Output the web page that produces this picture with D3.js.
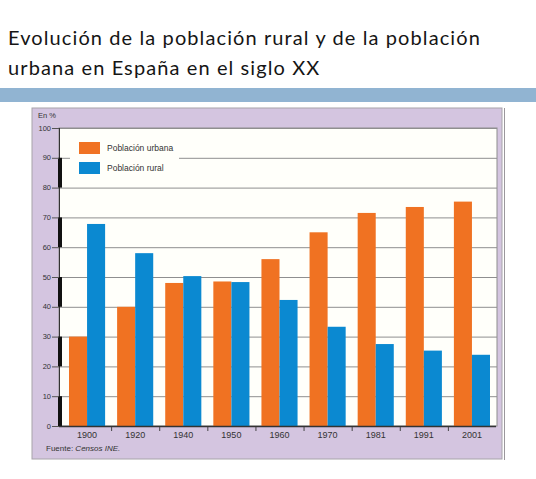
<!DOCTYPE html>
<html>
<head>
<meta charset="utf-8">
<script src="https://cdn.jsdelivr.net/npm/d3@7"></script>
<style>
  body { margin: 0; background: #fff; }
  svg { display: block; }
</style>
</head>
<body>
<div id="chart"></div>
<script>
// data (percent)
const years = ["1900", "1920", "1940", "1950", "1960", "1970", "1981", "1991", "2001"];
const urbana = [30, 40, 48, 48.5, 56, 65, 71.5, 73.5, 75.3];
const rural = [67.8, 58, 50.3, 48.3, 42.3, 33.3, 27.5, 25.3, 23.9];
const yTicks = [0, 10, 20, 30, 40, 50, 60, 70, 80, 90, 100];
const seriesNames = ["Población urbana", "Población rural"];

const W = 536, H = 479;
const colors = ["#f07222", "#0b89d1"];

const svg = d3.select("#chart").append("svg").attr("width", W).attr("height", H);

// title
const title = svg.append("text")
  .attr("x", 8)
  .style("font-family", "Lato, 'Open Sans', sans-serif")
  .style("font-size", "20px")
  .style("letter-spacing", "1.1px")
  .style("fill", "#151515");
title.append("tspan").attr("x", 8).attr("y", 45).text("Evolución de la población rural y de la población");
title.append("tspan").attr("x", 8).attr("y", 75).text("urbana en España en el siglo XX");

// blue band
svg.append("rect").attr("x", 0).attr("y", 88).attr("width", W).attr("height", 14).attr("fill", "#91b4d2");

// panel
svg.append("rect").attr("x", 32).attr("y", 108).attr("width", 470).attr("height", 351)
  .attr("fill", "#d4c5e0").attr("stroke", "#a8a4aa").attr("stroke-width", 1);
svg.append("line").attr("x1", 504.5).attr("x2", 504.5).attr("y1", 108).attr("y2", 460)
  .attr("stroke", "#9b979c").attr("stroke-width", 1);

// scales
const y = d3.scaleLinear().domain([0, 100]).range([426, 128]);
const x = d3.scaleBand().domain(years).range([63, 496]).padding(0);
const x1 = d3.scaleBand().domain([0, 1]).range([6, x.bandwidth() - 6]).padding(0);

// plot background
svg.append("rect").attr("x", 59).attr("y", y(100)).attr("width", 497 - 59).attr("height", y(0) - y(100))
  .attr("fill", "#fffffa").attr("stroke", "#8d8d8d").attr("stroke-width", 1);

// gridlines
svg.append("g").selectAll("line").data(yTicks.filter(d => d > 0)).enter().append("line")
  .attr("x1", 59).attr("x2", 497)
  .attr("y1", d => y(d) + 0.5).attr("y2", d => y(d) + 0.5)
  .attr("stroke", "#8f8f8f").attr("stroke-width", 1);

// legend box (hides part of the 90 gridline)
const leg = svg.append("g").attr("transform", "translate(70,134)");
leg.append("rect").attr("width", 109).attr("height", 48).attr("fill", "#fffffa");
seriesNames.forEach((name, i) => {
  leg.append("rect").attr("x", 9).attr("y", 8 + i * 20).attr("width", 21).attr("height", 12)
    .attr("fill", colors[i]);
  leg.append("text").attr("x", 37).attr("y", 14 + i * 20).attr("dy", "0.35em")
    .style("font-family", "'Liberation Sans', Arial, sans-serif")
    .style("font-size", "8.5px").style("fill", "#333")
    .text(name);
});

// bars
const bars = svg.append("g");
[urbana, rural].forEach((vals, s) => {
  bars.selectAll(".b" + s).data(years).enter().append("rect")
    .attr("class", "b" + s)
    .attr("x", d => x(d) + x1(s))
    .attr("width", x1.bandwidth())
    .attr("y", (d, i) => y(vals[i]))
    .attr("height", (d, i) => y(0) - y(vals[i]))
    .attr("fill", colors[s]);
});

// y axis with black alternating segments
const yAxis = svg.append("g");
yAxis.append("line").attr("x1", 59.5).attr("x2", 59.5).attr("y1", y(100)).attr("y2", y(0))
  .attr("stroke", "#333").attr("stroke-width", 1);
[[80, 90], [60, 70], [40, 50], [20, 30], [0, 10]].forEach(([a, b]) => {
  yAxis.append("rect").attr("x", 58).attr("width", 4)
    .attr("y", y(b)).attr("height", y(a) - y(b)).attr("fill", "#111");
});
yAxis.selectAll(".tk").data(yTicks).enter().append("line")
  .attr("x1", 52).attr("x2", 59)
  .attr("y1", d => y(d) + 0.5).attr("y2", d => y(d) + 0.5)
  .attr("stroke", "#555");
yAxis.selectAll(".lb").data(yTicks).enter().append("text")
  .attr("x", 51).attr("y", d => y(d)).attr("dy", "0.35em")
  .attr("text-anchor", "end")
  .style("font-family", "'Liberation Sans', Arial, sans-serif")
  .style("font-size", "7.5px").style("fill", "#333")
  .text(d => d);

// x axis
const xAxis = svg.append("g");
xAxis.append("line").attr("x1", 59).attr("x2", 496).attr("y1", y(0) + 0.5).attr("y2", y(0) + 0.5)
  .attr("stroke", "#333").attr("stroke-width", 1.5);
xAxis.selectAll(".tk").data(years.slice(1)).enter().append("line")
  .attr("x1", d => x(d) + 0.5).attr("x2", d => x(d) + 0.5)
  .attr("y1", y(0) + 1).attr("y2", y(0) + 5)
  .attr("stroke", "#444");
xAxis.selectAll(".lb").data(years).enter().append("text")
  .attr("x", d => x(d) + x.bandwidth() / 2).attr("y", y(0) + 12)
  .attr("text-anchor", "middle")
  .style("font-family", "'Liberation Sans', Arial, sans-serif")
  .style("font-size", "9px").style("fill", "#333")
  .text(d => d);

// unit label and source
svg.append("text").attr("x", 38).attr("y", 118)
  .style("font-family", "'Liberation Sans', Arial, sans-serif")
  .style("font-size", "7.5px").style("fill", "#333").text("En %");
const src = svg.append("text").attr("x", 46).attr("y", 451)
  .style("font-family", "'Liberation Sans', Arial, sans-serif")
  .style("font-size", "8px").style("fill", "#333");
src.append("tspan").text("Fuente: ");
src.append("tspan").style("font-style", "italic").text("Censos INE.");
</script>
</body>
</html>
